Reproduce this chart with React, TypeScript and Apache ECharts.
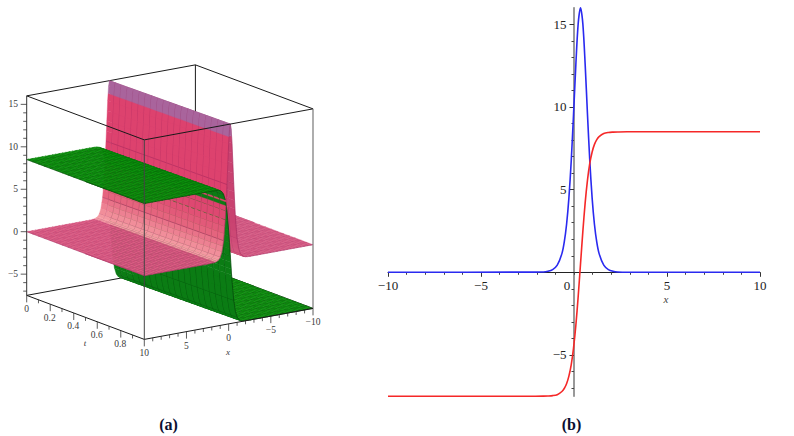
import React, { useEffect, useRef } from "react";
import * as echarts from "echarts";

// ---------- panel (b) ----------
const curveX = [-10, -2.5, -1.65, -1.4, -1.15, -0.9, -0.65, -0.525, -0.4, -0.275, -0.15, -0.025, 0.1, 0.225, 0.35, 0.475, 0.6, 0.725, 0.85, 0.975, 1.1, 1.225, 1.35, 1.6, 1.85, 2.1, 2.35, 2.85, 10];
const blueValues = [0, 0.01, 0.02, 0.06, 0.16, 0.43, 1.13, 1.82, 2.89, 4.49, 6.72, 9.55, 12.58, 15.04, 16, 15.04, 12.58, 9.55, 6.72, 4.49, 2.89, 1.82, 1.13, 0.43, 0.16, 0.06, 0.02, 0, 0];
const redValues = [-7.5, -7.5, -7.49, -7.48, -7.46, -7.4, -7.21, -7.03, -6.74, -6.28, -5.6, -4.58, -3.2, -1.46, 0.5, 2.46, 4.2, 5.58, 6.6, 7.28, 7.74, 8.03, 8.21, 8.4, 8.46, 8.48, 8.49, 8.5, 8.5];
const xMajor = [-10, -5, 5, 10];
const xMinor = [-9, -8, -7, -6, -4, -3, -2, -1, 0, 1, 2, 3, 4, 6, 7, 8, 9];
const yMajor = [-5, 5, 10, 15];
const yMinor = [-7, -6, -4, -3, -2, -1, 1, 2, 3, 4, 6, 7, 8, 9, 11, 12, 13, 14];

// ---------- panel (a) ----------
const tNodes = [0, 0.05, 0.1, 0.15, 0.2, 0.25, 0.3, 0.35, 0.4, 0.45, 0.5, 0.55, 0.6, 0.65, 0.7, 0.75, 0.8, 0.85, 0.9, 0.95, 1];
const ridgeCentres = [0.2, 0.18, 0.16, 0.14, 0.12, 0.1, 0.08, 0.06, 0.04, 0.02, 0, -0.02, -0.04, -0.06, -0.08, -0.1, -0.12, -0.14, -0.16, -0.18, -0.2];
const ridgeOffsets = [
  -10.4, -10, -9.6, -9.2, -8.8, -8.4, -8, -7.6, -7.2, -6.8, -6.4, -6, -5.6, -5.2, -4.8, -4.4, -4, -3.6, -3.2, -2.8, -2.4,
  -2, -1.8, -1.6, -1.4, -1.2, -1, -0.8, -0.6, -0.4, -0.2, -0.1, 0, 0.1, 0.2, 0.4, 0.6, 0.8, 1, 1.2, 1.4, 1.6, 1.8, 2,
  2.4, 2.8, 3.2, 3.6, 4, 4.4, 4.8, 5.2, 5.6, 6, 6.4, 6.8, 7.2, 7.6, 8, 8.4, 8.8, 9.2, 9.6, 10, 10.4,
];
const pinkProfile = [
  0, 0, 0, 0, 0, 0, 0, 0, 0, 0, 0, 0, 0, 0, 0, 0, 0, 0, 0, 0, 0,
  0.02, 0.05, 0.11, 0.24, 0.52, 1.13, 2.41, 4.88, 8.95, 13.7, 15.37, 16, 15.37, 13.7, 8.95, 4.88, 2.41, 1.13, 0.52, 0.24, 0.11, 0.05, 0.02,
  0, 0, 0, 0, 0, 0, 0, 0, 0, 0, 0, 0, 0, 0, 0, 0, 0, 0, 0, 0, 0,
];
const greenProfile = [
  -7.5, -7.5, -7.5, -7.5, -7.5, -7.5, -7.5, -7.5, -7.5, -7.5, -7.5, -7.5, -7.5, -7.5, -7.5, -7.5, -7.5, -7.5, -7.5, -7.5, -7.5,
  -7.49, -7.49, -7.47, -7.44, -7.37, -7.21, -6.87, -6.17, -4.81, -2.54, -1.08, 0.5, 2.08, 3.54, 5.81, 7.17, 7.87, 8.21, 8.37, 8.44, 8.47, 8.49, 8.49,
  8.5, 8.5, 8.5, 8.5, 8.5, 8.5, 8.5, 8.5, 8.5, 8.5, 8.5, 8.5, 8.5, 8.5, 8.5, 8.5, 8.5, 8.5, 8.5, 8.5, 8.5,
];
const zTicks = [-7, -6, -5, -4, -3, -2, -1, 0, 1, 2, 3, 4, 5, 6, 7, 8, 9, 10, 11, 12, 13, 14, 15];
const zLabels = [-5, 0, 5, 10, 15];
const tTicks = [0, 0.1, 0.2, 0.3, 0.4, 0.5, 0.6, 0.7, 0.8, 0.9];
const tLabels = [0, 0.2, 0.4, 0.6, 0.8];
const xTicks3d = [10, 9, 8, 7, 6, 5, 4, 3, 2, 1, 0, -1, -2, -3, -4, -5, -6, -7, -8, -9, -10];
const xLabels3d = [10, 5, 0, -5, -10];

const FONT = "'Liberation Serif', serif";
const minus = (v: number) => (v < 0 ? "\u2212" + Math.abs(v) : String(v));

type P = [number, number];
// orthographic box projection onto the page plane
const project = (t: number, x: number, z: number): P => {
  const u = (10 - x) / 20;
  return [26.7 + 117.6 * t + 168.7 * u, 231.7 - 8.49 * z + 44 * t - 31 * u];
};
const depthOf = (t: number, x: number, z: number) => t - 0.697 * ((10 - x) / 20) + 0.33 * ((z + 7.5) / 23.5);

const lerpColor = (a: number[], b: number[], f: number) => {
  const k = Math.max(0, Math.min(1, f));
  return `rgb(${a.map((v, i) => Math.round(v + (b[i] - v) * k)).join(",")})`;
};

const pinkFill = (z: number, d: number) => {
  if (z > 14.4) return "#a9649c";
  if (d < 0) {
    if (z < 0.05) return "#d85e86";
    return lerpColor([214, 90, 128], [201, 66, 112], z / 4);
  }
  if (z < 0.05) return "#dc5c84";
  if (z < 3) return lerpColor([246, 160, 166], [228, 96, 124], z / 3);
  return lerpColor([228, 96, 124], [221, 66, 110], (z - 3) / 3);
};
const greenFill = (z: number, d: number) => {
  if (z > 8.4) return "#0c930c";
  if (z < -7.4) return "#0f930f";
  return "#0b7c14";
};

type Piece = { pts: P[]; lines: P[][]; fill: string; mesh: string; lw: number; depth: number };
const pieces: Piece[] = [];

const isMeshNode = (d: number) => Math.abs(d / 0.4 - Math.round(d / 0.4)) < 0.01;

const addSurface = (profile: number[], kind: "pink" | "green") => {
  const lastI = ridgeOffsets.length - 2;
  for (let j = 0; j < tNodes.length - 1; j++) {
    for (let i = 0; i <= lastI; i++) {
      const clampX = (jj: number, ii: number) => Math.max(-10, Math.min(10, ridgeCentres[jj] + ridgeOffsets[ii]));
      const A = [tNodes[j], clampX(j, i), profile[i]];
      const B = [tNodes[j], clampX(j, i + 1), profile[i + 1]];
      const C = [tNodes[j + 1], clampX(j + 1, i + 1), profile[i + 1]];
      const D = [tNodes[j + 1], clampX(j + 1, i), profile[i]];
      if (A[1] === B[1] && C[1] === D[1]) continue;
      const n = Math.max(1, Math.ceil(Math.abs(profile[i + 1] - profile[i]) / 1.2));
      for (let s = 0; s < n; s++) {
        const f0 = s / n;
        const f1 = (s + 1) / n;
        const mix = (a: number[], b: number[], f: number) => a.map((v, k) => v + (b[k] - v) * f);
        const a = mix(A, B, f0), b = mix(A, B, f1), c = mix(D, C, f1), e = mix(D, C, f0);
        const pj = (w: number[]) => project(w[0], w[1], w[2]);
        const zMid = (a[2] + b[2]) / 2;
        const dMid = ridgeOffsets[i] + (ridgeOffsets[i + 1] - ridgeOffsets[i]) * ((f0 + f1) / 2);
        const lines: P[][] = [[pj(e), pj(c)]];
        if (s === n - 1 && isMeshNode(ridgeOffsets[i + 1])) lines.push([pj(b), pj(c)]);
        const cx = (a[1] + b[1] + c[1] + e[1]) / 4;
        const ct = (a[0] + c[0]) / 2;
        const cz = (a[2] + b[2] + c[2] + e[2]) / 4;
        pieces.push({
          pts: [pj(a), pj(b), pj(c), pj(e)],
          lines,
          fill: kind === "pink" ? pinkFill(zMid, dMid) : greenFill(zMid, dMid),
          mesh: kind === "pink" ? "rgba(140,30,85,0.7)" : "rgba(4,50,8,0.9)",
          lw: kind === "pink" ? 0.55 : 0.6,
          depth: depthOf(ct, cx, cz),
        });
      }
    }
  }
};
addSurface(pinkProfile, "pink");
addSurface(greenProfile, "green");
pieces.sort((p, q) => p.depth - q.depth);

type Seg = { a: P; b: P; color: string; w: number };
const seg = (a: P, b: P, color = "#1a1a1a", w = 1): Seg => ({ a, b, color, w });
const backSegs: Seg[] = [
  seg(project(0, 10, 16), project(0, -10, 16)),
  seg(project(0, -10, 16), project(1, -10, 16)),
  seg(project(0, -10, 16), project(0, -10, -7.5)),
  seg(project(0, 10, -7.5), project(0, -10, -7.5)),
  seg(project(0, -10, -7.5), project(1, -10, -7.5)),
];
const frontSegs: Seg[] = [
  seg(project(0, 10, 16), project(1, 10, 16)),
  seg(project(1, 10, 16), project(1, -10, 16)),
  seg(project(0, 10, 16), project(0, 10, -7.5), "#333"),
  seg(project(1, 10, 16), project(1, 10, -7.5), "#444"),
  seg(project(1, -10, 16), project(1, -10, -7.5), "#777", 1.2),
  seg(project(0, 10, -7.5), project(1, 10, -7.5)),
  seg(project(1, 10, -7.5), project(1, -10, -7.5)),
];
zTicks.forEach((z) => {
  const p = project(0, 10, z);
  const len = zLabels.includes(z) ? 6 : 3.5;
  frontSegs.push(seg([p[0] - len, p[1]], p, "#333", 0.8));
});
tTicks.forEach((t) => {
  const p = project(t, 10, -7.5);
  const len = tLabels.includes(t) ? 7 : 3.5;
  frontSegs.push(seg(p, [p[0], p[1] + len], "#333", 0.8));
});
xTicks3d.forEach((x) => {
  const p = project(1, x, -7.5);
  const len = xLabels3d.includes(x) ? 7 : 3.5;
  frontSegs.push(seg(p, [p[0], p[1] + len], "#333", 0.8));
});

const segSeries = (segs: Seg[], z: number) => ({
  type: "custom",
  xAxisIndex: 2,
  yAxisIndex: 2,
  coordinateSystem: "cartesian2d",
  clip: false,
  silent: true,
  z,
  data: segs.map((_, i) => [i, 0]),
  renderItem: (params: any, api: any) => {
    const s = segs[params.dataIndex];
    const a = api.coord(s.a);
    const b = api.coord(s.b);
    return {
      type: "line",
      shape: { x1: a[0], y1: a[1], x2: b[0], y2: b[1] },
      style: { stroke: s.color, lineWidth: s.w, fill: null },
    };
  },
});

const txt = (text: string, x: number, y: number, font: string, fill = "#3a3a3a", textAlign = "center") => ({
  type: "text",
  x,
  y,
  silent: true,
  style: { text, font, fill, textAlign, textVerticalAlign: "middle" },
});

const GRID_B = { left: 388, top: 7.8, width: 372, height: 388.5 };
const xPx = (v: number) => GRID_B.left + (GRID_B.width * (v + 10)) / 20;
const yPx = (v: number) => GRID_B.top + (GRID_B.height * (16 - v)) / 23.5;

const smallFont = `9.5px ${FONT}`;
const labelFont = `13px ${FONT}`;
const graphics: any[] = [];
zLabels.forEach((z) => {
  const p = project(0, 10, z);
  graphics.push(txt(minus(z), 18, p[1], smallFont, "#3a3a3a", "right"));
});
tLabels.forEach((t) => {
  const p = project(t, 10, -7.5);
  graphics.push(txt(String(t), p[0] - (t === 0 ? 0 : 0.5), p[1] + 13.5, smallFont));
});
xLabels3d.forEach((x) => {
  const p = project(1, x, -7.5);
  graphics.push(txt(minus(x), p[0], p[1] + 14, smallFont));
});
xMajor.forEach((v) => graphics.push(txt(minus(v), xPx(v), 285, labelFont, "#222")));
yMajor.forEach((v) => graphics.push(txt(minus(v), 566.5, yPx(v), labelFont, "#222", "right")));
graphics.push(txt("t", 85, 343, `italic 9px ${FONT}`));
graphics.push(txt("x", 228, 352, `italic 9px ${FONT}`));
graphics.push(txt("(a)", 168.5, 424, `bold 16px ${FONT}`, "#0b1030"));
graphics.push(txt("(b)", 571.5, 424, `bold 16px ${FONT}`, "#0b1030"));
graphics.push(txt("0", 567, 285, labelFont, "#222"));
graphics.push(txt("x", 666, 299, `italic 11px ${FONT}`, "#444"));

const buildOption = () => ({
  animation: false,
  backgroundColor: "#fff",
  grid: [
    { ...GRID_B, containLabel: false },
    { left: 0, top: 0, width: 372, height: 436, containLabel: false },
  ],
  xAxis: [
    {
      type: "value", gridIndex: 0, min: -10, max: 10, position: "bottom",
      splitLine: { show: false },
      axisLine: { show: true, onZero: true, lineStyle: { color: "#222", width: 1 } },
      axisTick: { show: true, length: 4.5, customValues: xMajor, lineStyle: { color: "#333" } },
      axisLabel: { show: false },
    },
    {
      type: "value", gridIndex: 0, min: -10, max: 10, position: "bottom",
      splitLine: { show: false },
      axisLine: { show: false, onZero: true },
      axisTick: { show: true, length: 2.5, customValues: xMinor, lineStyle: { color: "#444" } },
      axisLabel: { show: false },
    },
    { type: "value", gridIndex: 1, min: 0, max: 372, show: false },
  ],
  yAxis: [
    {
      type: "value", gridIndex: 0, min: -7.5, max: 16, position: "left",
      splitLine: { show: false },
      axisLine: { show: true, onZero: true, lineStyle: { color: "#777", width: 1.5 } },
      axisTick: { show: true, length: 4.5, customValues: yMajor, lineStyle: { color: "#333" } },
      axisLabel: { show: false },
    },
    {
      type: "value", gridIndex: 0, min: -7.5, max: 16, position: "left",
      splitLine: { show: false },
      axisLine: { show: false, onZero: true },
      axisTick: { show: true, length: 2.5, customValues: yMinor, lineStyle: { color: "#444" } },
      axisLabel: { show: false },
    },
    { type: "value", gridIndex: 1, min: 0, max: 436, inverse: true, show: false },
  ],
  graphic: { elements: graphics },
  series: [
    {
      type: "line", xAxisIndex: 0, yAxisIndex: 0, smooth: 0.3, showSymbol: false, clip: false, silent: true, z: 3,
      lineStyle: { color: "#2a2af0", width: 1.6 },
      data: curveX.map((x, i) => [x, blueValues[i]]),
    },
    {
      type: "line", xAxisIndex: 0, yAxisIndex: 0, smooth: 0.3, showSymbol: false, clip: false, silent: true, z: 4,
      lineStyle: { color: "#f52828", width: 1.6 },
      data: curveX.map((x, i) => [x, redValues[i]]),
    },
    segSeries(backSegs, 2),
    {
      type: "custom",
      xAxisIndex: 2,
      yAxisIndex: 2,
      coordinateSystem: "cartesian2d",
      clip: false,
      silent: true,
      progressive: 0,
      z: 3,
      data: pieces.map((_, i) => [i, 0]),
      renderItem: (params: any, api: any) => {
        const p = pieces[params.dataIndex];
        const pts = p.pts.map((q) => api.coord(q));
        const children: any[] = [
          { type: "polygon", shape: { points: pts }, style: { fill: p.fill, stroke: p.fill, lineWidth: 0.4 } },
        ];
        p.lines.forEach((l) => {
          children.push({
            type: "polyline",
            shape: { points: l.map((q) => api.coord(q)) },
            style: { stroke: p.mesh, lineWidth: p.lw, fill: null },
          });
        });
        return { type: "group", children };
      },
    },
    segSeries(frontSegs, 4),
  ],
});

export default function App() {
  const ref = useRef<HTMLDivElement>(null);
  useEffect(() => {
    const chart = echarts.init(ref.current!, null, { renderer: "svg" });
    chart.setOption(buildOption() as any);
    return () => chart.dispose();
  }, []);
  return <div ref={ref} style={{ position: "absolute", left: 0, top: 0, width: 794, height: 436 }} />;
}
